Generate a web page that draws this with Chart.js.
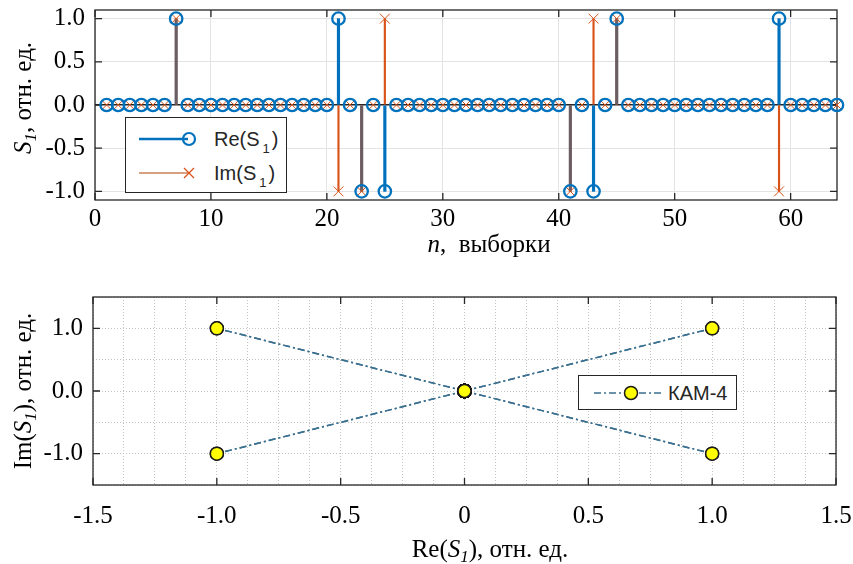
<!DOCTYPE html>
<html>
<head>
<meta charset="utf-8">
<script src="https://cdn.jsdelivr.net/npm/chart.js@4.4.1/dist/chart.umd.min.js"></script>
<style>
  body { margin: 0; background: #fff; }
  #wrap { position: relative; width: 853px; height: 564px; overflow: hidden; font-family: 'Liberation Serif', 'Times New Roman', serif; }
  canvas { position: absolute; left: 0; }
  .ttl { position: absolute; font-size: 25px; white-space: nowrap; color: #000; line-height: 1; }
  .ttl sub { font-size: 0.68em; vertical-align: -0.3em; line-height: 0; }
  .leg { position: absolute; background: #fff; border: 1px solid #262626; box-sizing: border-box;
         font-family: 'Liberation Sans', Arial, sans-serif; color: #262626; }
  .leg svg, .leg span { position: absolute; }
  .leg span { line-height: 1; white-space: nowrap; }
  .leg sub { font-size: 0.65em; vertical-align: -0.5em; line-height: 0; margin: 0 2px 0 3px; }
</style>
</head>
<body>
<div id="wrap">
  <canvas id="top" width="853" height="270" style="top:0"></canvas>
  <canvas id="bot" width="853" height="294" style="top:270px"></canvas>

  <div class="ttl" style="left:22px;top:98px;transform:translate(-50%,-50%) rotate(-90deg);"><i>S</i><sub><i>1</i></sub>, отн. ед.</div>
  <div class="ttl" style="left:489px;top:243px;transform:translate(-50%,-50%);"><i>n</i>,&nbsp; выборки</div>
  <div class="ttl" style="left:22px;top:391px;transform:translate(-50%,-50%) rotate(-90deg);">Im(<i>S</i><sub><i>1</i></sub>), отн. ед.</div>
  <div class="ttl" style="left:490px;top:548px;transform:translate(-50%,-50%);">Re(<i>S</i><sub><i>1</i></sub>), отн. ед.</div>

  <div class="leg" style="left:125px;top:117px;width:162px;height:76px;font-size:20px;">
    <svg width="80" height="76" style="left:0;top:0">
      <line x1="13" y1="21" x2="62" y2="21" stroke="#0072BD" stroke-width="2.5"/>
      <circle cx="63" cy="21" r="6" fill="none" stroke="#0072BD" stroke-width="2.2"/>
      <line x1="13" y1="55" x2="62" y2="55" stroke="#D9A080" stroke-width="2"/>
      <path d="M58 50 L68 60 M68 50 L58 60" stroke="#D95319" stroke-width="1.3"/>
    </svg>
    <span style="left:88px;top:11px;">Re(S<sub>1</sub>)</span>
    <span style="left:88px;top:45px;">Im(S<sub>1</sub>)</span>
  </div>

  <div class="leg" style="left:578px;top:375px;width:159px;height:35px;font-size:20px;">
    <svg width="90" height="35" style="left:0;top:0">
      <line x1="15" y1="17" x2="85" y2="17" stroke="#3a6f8f" stroke-width="1.5" stroke-dasharray="7 3 2 3"/>
      <circle cx="52" cy="17" r="6.5" fill="#ffff00" stroke="#1a1a1a" stroke-width="1.5"/>
    </svg>
    <span style="left:89px;top:7px;">КАМ-4</span>
  </div>
</div>

<script>
// отсчёты сигнала
const n = [1,2,3,4,5,6,7,8,9,10,11,12,13,14,15,16,17,18,19,20,21,22,23,24,25,26,27,28,29,30,31,32,
           33,34,35,36,37,38,39,40,41,42,43,44,45,46,47,48,49,50,51,52,53,54,55,56,57,58,59,60,61,62,63,64];
const reS1 = [0,0,0,0,0,0,1, 0,0,0,0,0,0,0,0,0,0,0,0,0, 1,0,-1,0,-1, 0,0,0,0,0,0,0,0,0,0,0,0,0,0,0,
              -1,0,-1,0,1, 0,0,0,0,0,0,0,0,0,0,0,0,0, 1, 0,0,0,0,0];
const imS1 = [0,0,0,0,0,0,1, 0,0,0,0,0,0,0,0,0,0,0,0,0, -1,0,-1,0,1, 0,0,0,0,0,0,0,0,0,0,0,0,0,0,0,
              -1,0,1,0,1, 0,0,0,0,0,0,0,0,0,0,0,0,0, -1, 0,0,0,0,0];

const topXTicks = [0, 10, 20, 30, 40, 50, 60];
const topYTicks = [-1.0, -0.5, 0.0, 0.5, 1.0];
const botXTicks = [-1.5, -1.0, -0.5, 0, 0.5, 1.0, 1.5];
const botYTicks = [-1.0, 0.0, 1.0];

const BLUE = '#0072BD', ORANGE = '#D95319', BOTH = '#6a5d63', AX = '#262626';
const SERIF = "'Liberation Serif', 'Times New Roman', serif";

// рамка и внутренние засечки как в MATLAB
const boxPlugin = {
  id: 'box',
  beforeDatasetsDraw(chart, args, opts) {
    const { ctx, chartArea: a, scales: { x, y } } = chart;
    ctx.save();
    ctx.strokeStyle = AX;
    ctx.lineWidth = 1.3;
    ctx.strokeRect(a.left, a.top, a.width, a.height);
    ctx.beginPath();
    opts.xMajor.forEach(v => {
      const p = x.getPixelForValue(v);
      ctx.moveTo(p, a.bottom); ctx.lineTo(p, a.bottom - 7);
      ctx.moveTo(p, a.top); ctx.lineTo(p, a.top + 7);
    });
    opts.yMajor.forEach(v => {
      const p = y.getPixelForValue(v);
      ctx.moveTo(a.left, p); ctx.lineTo(a.left + 7, p);
      ctx.moveTo(a.right, p); ctx.lineTo(a.right - 7, p);
    });
    ctx.stroke();
    ctx.restore();
  }
};

const tickFont = { family: SERIF, size: 25 };
const isIn = (arr, v) => arr.some(t => Math.abs(t - v) < 1e-9);
const noPad = s => { s.paddingTop = 0; s.paddingBottom = 0; s.paddingLeft = 0; s.paddingRight = 0; };

// ---- верхний график: стебли ----
const imStems = [], reStems = [], reStemColors = [];
n.forEach((v, i) => {
  if (imS1[i] !== 0) imStems.push({ x: v, y: [0, imS1[i]] });
  if (reS1[i] !== 0) {
    reStems.push({ x: v, y: [0, reS1[i]] });
    reStemColors.push(reS1[i] === imS1[i] ? BOTH : BLUE);
  }
});

new Chart(document.getElementById('top'), {
  type: 'scatter',
  data: {
    datasets: [
      { type: 'scatter', data: n.map((v, i) => ({ x: v, y: reS1[i] })), pointStyle: 'circle',
        pointRadius: 6.2, pointBorderColor: BLUE, pointBackgroundColor: 'rgba(0,0,0,0)', pointBorderWidth: 2.3,
        showLine: false, order: 0, clip: false },
      { type: 'scatter', data: n.map((v, i) => ({ x: v, y: imS1[i] })), pointStyle: 'crossRot',
        pointRadius: 7, pointBorderColor: ORANGE, pointBorderWidth: 1, showLine: false, order: 1, clip: false },
      { type: 'bar', data: reStems, backgroundColor: reStemColors, barThickness: 2.5, grouped: false, order: 2 },
      { type: 'bar', data: imStems, backgroundColor: ORANGE, barThickness: 1.5, grouped: false, order: 3 }
    ]
  },
  options: {
    responsive: false, animation: false, devicePixelRatio: 1,
    layout: { padding: { left: 0, top: 10, right: 16, bottom: 0 } },
    plugins: { legend: { display: false }, tooltip: { enabled: false },
               box: { xMajor: topXTicks, yMajor: topYTicks } },
    scales: {
      x: {
        type: 'linear', min: 0, max: 64, offset: false,
        afterBuildTicks: s => { s.ticks = topXTicks.map(v => ({ value: v })); },
        afterFit: s => { s.height = 70; noPad(s); },
        grid: { color: '#e3e3e3', drawTicks: false, offset: false },
        border: { display: false },
        ticks: { font: tickFont, color: '#000', padding: 4, maxRotation: 0, autoSkip: false, callback: v => String(v) }
      },
      y: {
        type: 'linear', min: -1.1, max: 1.1,
        afterBuildTicks: s => { s.ticks = topYTicks.map(v => ({ value: v })); },
        afterFit: s => { s.width = 95; noPad(s); },
        grid: { color: c => (c.tick && c.tick.value === 0 ? AX : '#e3e3e3'),
                lineWidth: c => (c.tick && c.tick.value === 0 ? 1.5 : 1), drawTicks: false },
        border: { display: false },
        ticks: { font: tickFont, color: '#000', padding: 10, autoSkip: false, callback: v => v.toFixed(1) }
      }
    }
  },
  plugins: [boxPlugin]
});

// ---- нижний график: сигнальное созвездие ----
const constPts = n.map((v, i) => ({ x: reS1[i], y: imS1[i] }));
const LINE = '#3a6f8f';

new Chart(document.getElementById('bot'), {
  type: 'scatter',
  data: {
    datasets: [
      { type: 'scatter', data: constPts, pointRadius: 6.5, pointBackgroundColor: '#ffff00',
        pointBorderColor: '#1a1a1a', pointBorderWidth: 1.5, showLine: false, order: 0, clip: false },
      { type: 'line', data: constPts, borderColor: LINE, borderWidth: 1.5, borderDash: [7, 3, 2, 3],
        pointRadius: 0, fill: false, tension: 0, order: 1,
        // обратные ходы к нулю совпадают с прямыми — не перерисовываем их, чтобы штрихпунктир не сливался
        segment: { borderColor: c => (constPts[c.p0DataIndex].x !== 0 || constPts[c.p0DataIndex].y !== 0 ? 'rgba(0,0,0,0)' : LINE) } }
    ]
  },
  options: {
    responsive: false, animation: false, devicePixelRatio: 1,
    layout: { padding: { left: 0, top: 27, right: 17, bottom: 0 } },
    plugins: { legend: { display: false }, tooltip: { enabled: false },
               box: { xMajor: botXTicks, yMajor: botYTicks } },
    scales: {
      x: {
        type: 'linear', min: -1.5, max: 1.5, offset: false,
        afterBuildTicks: s => {
          const t = [];
          for (let i = 0; i < botXTicks.length - 1; i++) {
            const a = botXTicks[i], b = botXTicks[i + 1];
            for (let k = 0; k < 4; k++) t.push({ value: a + (b - a) * k / 4 });
          }
          t.push({ value: botXTicks[botXTicks.length - 1] });
          s.ticks = t;
        },
        afterFit: s => { s.height = 79; noPad(s); },
        grid: { color: '#c4c4c4', drawTicks: false },
        border: { display: false, dash: [1, 2] },
        ticks: { font: tickFont, color: '#000', padding: 16, maxRotation: 0, autoSkip: false,
                 callback: v => (isIn(botXTicks, v) ? (v === 0 ? '0' : v.toFixed(1)) : '') }
      },
      y: {
        type: 'linear', min: -1.5, max: 1.5,
        afterBuildTicks: s => {
          const t = [];
          for (let v = s.min; v <= s.max + 1e-9; v += 0.5) t.push({ value: v });
          s.ticks = t;
        },
        afterFit: s => { s.width = 93; noPad(s); },
        grid: { color: '#c4c4c4', drawTicks: false },
        border: { display: false, dash: [1, 2] },
        ticks: { font: tickFont, color: '#000', padding: 10, autoSkip: false,
                 callback: v => (isIn(botYTicks, v) ? v.toFixed(1) : '') }
      }
    }
  },
  plugins: [boxPlugin]
});
</script>
</body>
</html>
